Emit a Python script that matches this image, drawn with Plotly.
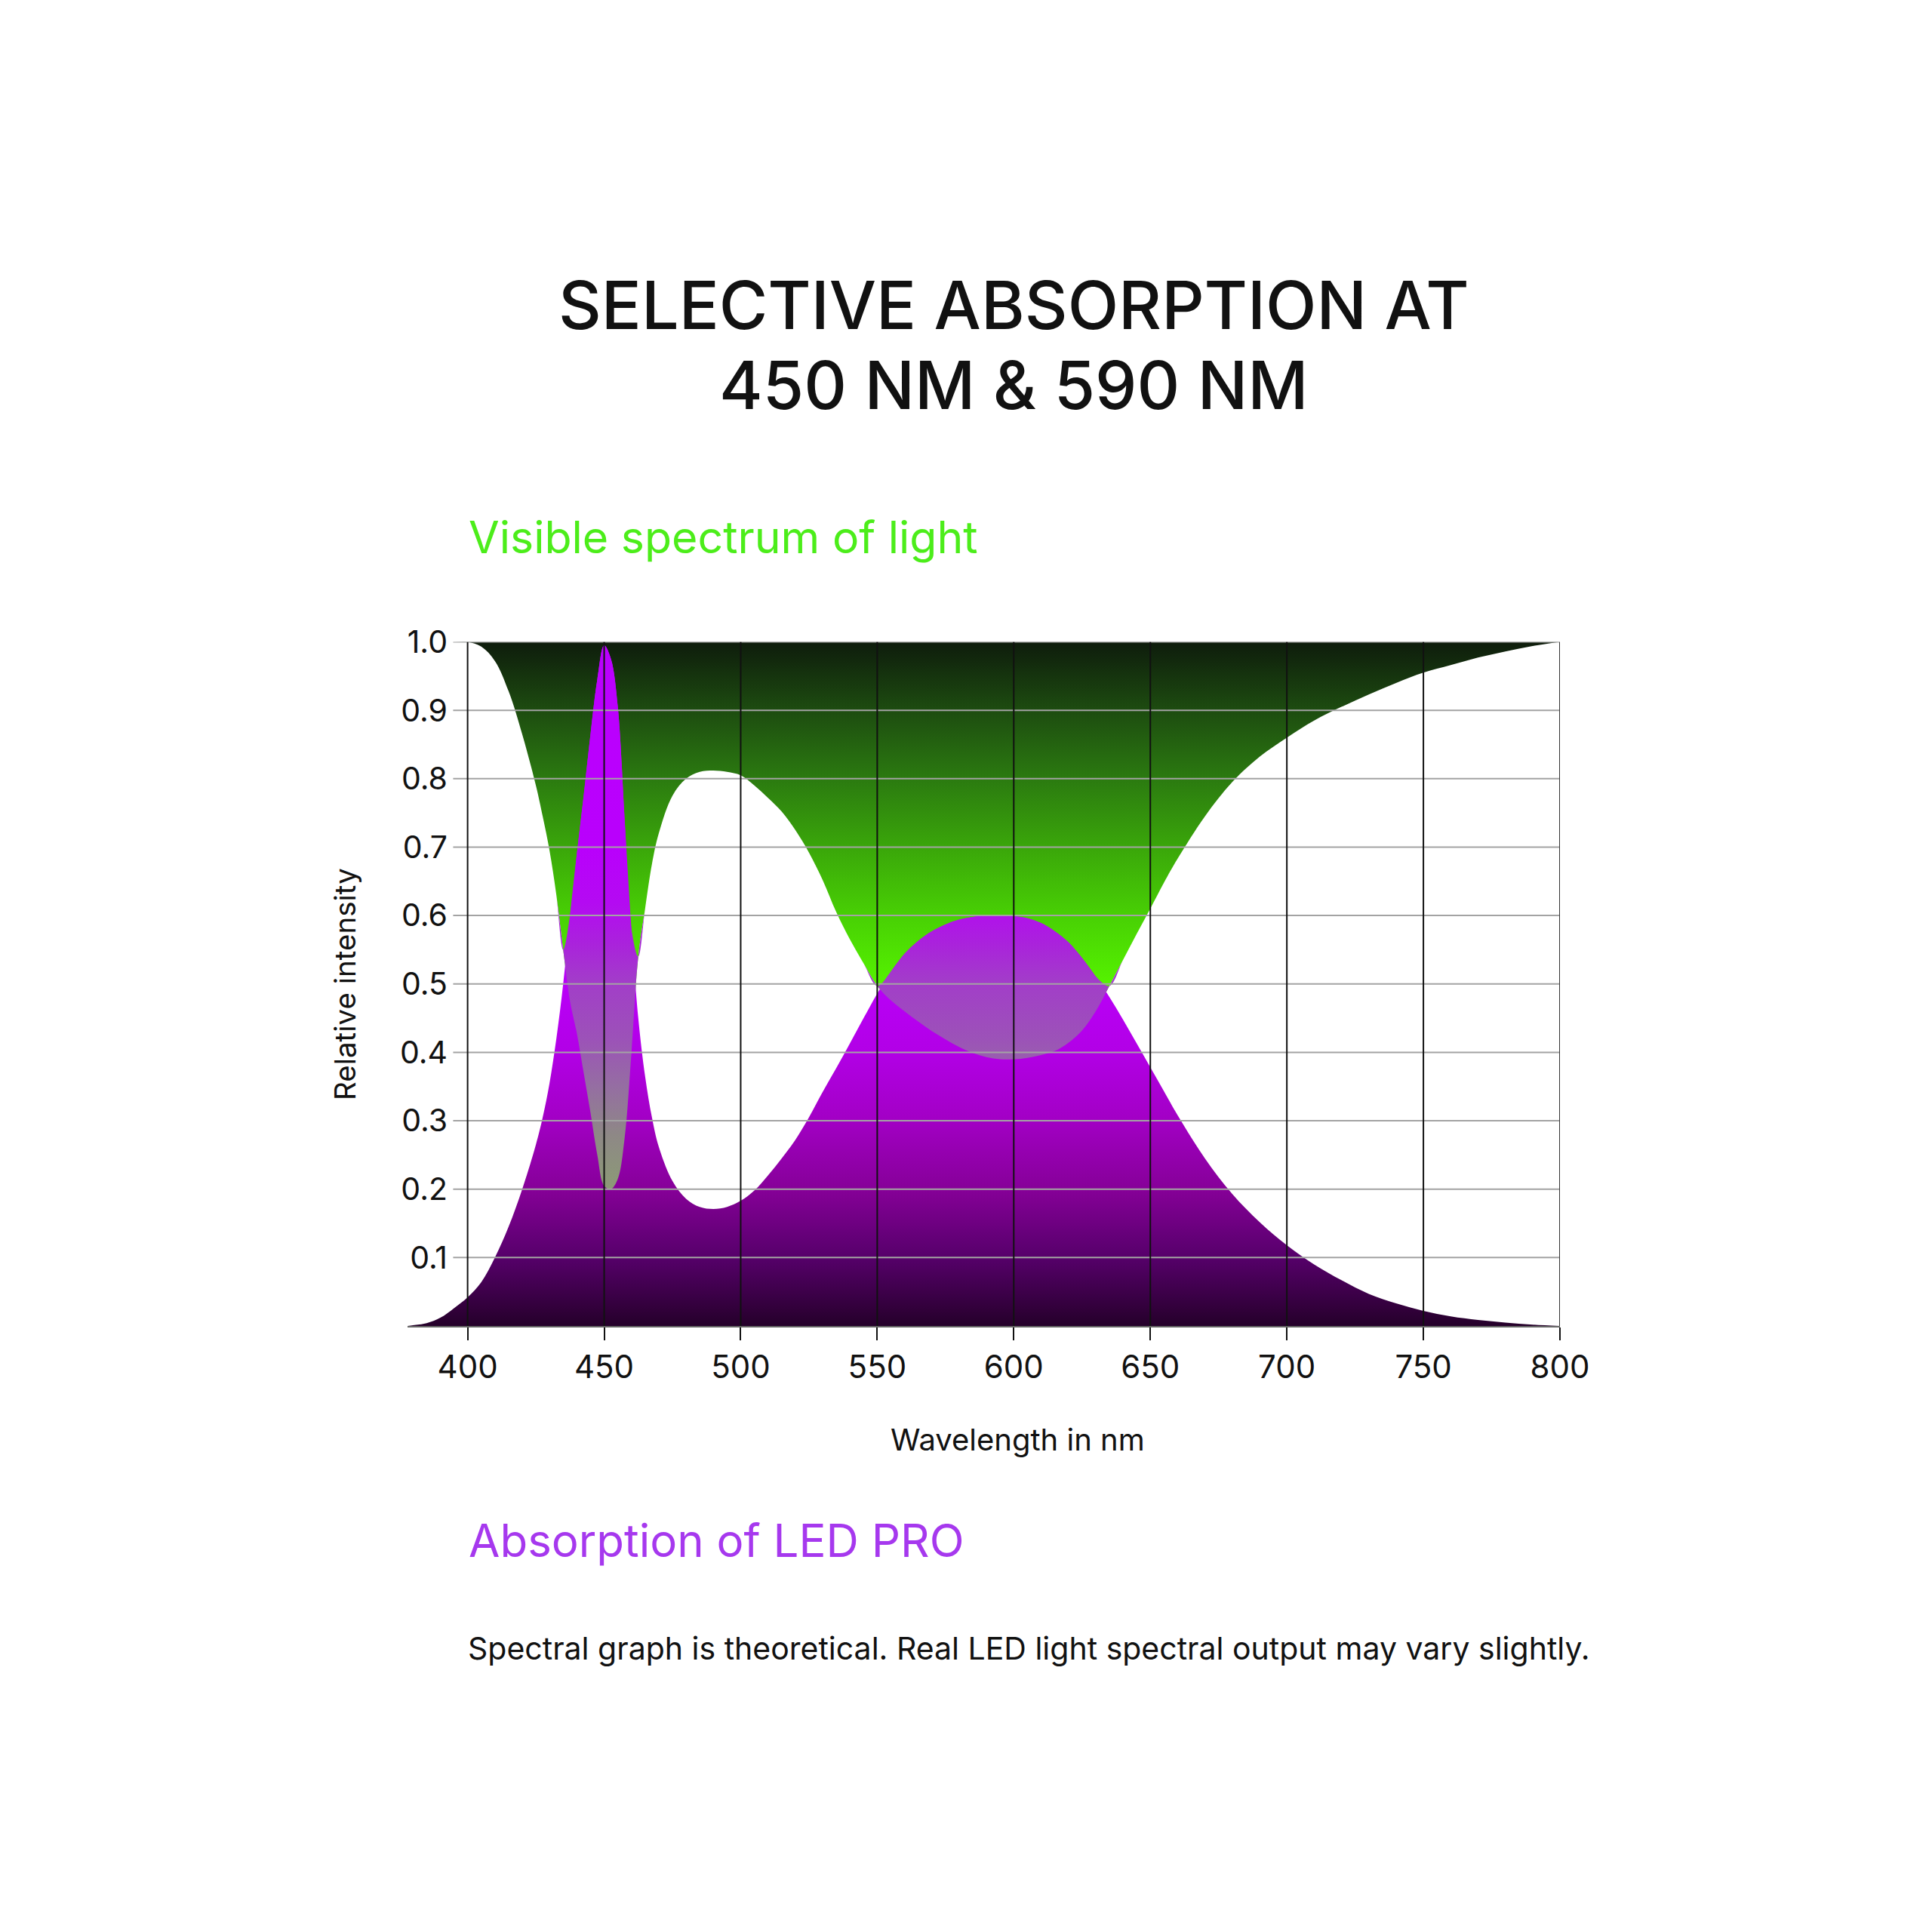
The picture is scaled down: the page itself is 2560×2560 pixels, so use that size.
import numpy as np
import plotly.graph_objects as go

wavelength = [378, 380, 385, 390, 395, 400, 405, 410, 415, 420, 425, 427.5, 430, 432.5,
              435, 437.5, 440, 442.5, 445, 447.5, 450, 452.5, 455, 457.5, 460, 462.5,
              465, 467.5, 470, 475, 480, 485, 490, 495, 500, 505, 510, 515, 520, 525,
              530, 535, 540, 545, 550, 555, 560, 565, 570, 575, 580, 585, 590, 595,
              600, 605, 610, 615, 620, 625, 630, 635, 640, 645, 650, 655, 660, 670,
              680, 690, 700, 710, 720, 730, 740, 750, 760, 770, 780, 790, 800]

# Absorption of LED PRO (filled from 0 up)
led_absorption = [0.0, 0.001, 0.004, 0.012, 0.026, 0.042, 0.064, 0.10, 0.145, 0.20, 0.265,
                  0.305, 0.355, 0.42, 0.50, 0.60, 0.69, 0.775, 0.865, 0.945, 0.995, 0.975,
                  0.905, 0.74, 0.58, 0.45, 0.365, 0.305, 0.262, 0.212, 0.186, 0.174, 0.171,
                  0.174, 0.183, 0.198, 0.22, 0.245, 0.272, 0.305, 0.342, 0.377, 0.413, 0.45,
                  0.486, 0.518, 0.544, 0.563, 0.577, 0.587, 0.594, 0.598, 0.60, 0.60, 0.599,
                  0.596, 0.589, 0.577, 0.561, 0.538, 0.511, 0.481, 0.448, 0.413, 0.378, 0.343,
                  0.308, 0.245, 0.193, 0.152, 0.118, 0.09, 0.067, 0.047, 0.033, 0.022,
                  0.014, 0.0088, 0.005, 0.002, 0.0]

# Visible spectrum of light (filled from the curve up to 1.0)
visible_light = [1.0, 1.0, 1.0, 1.0, 1.0, 1.0, 0.993, 0.972, 0.928, 0.865, 0.79, 0.745,
                 0.695, 0.63, 0.55, 0.475, 0.428, 0.37, 0.312, 0.25, 0.205, 0.20, 0.215,
                 0.275, 0.40, 0.54, 0.61, 0.675, 0.72, 0.775, 0.80, 0.81, 0.812, 0.81,
                 0.805, 0.79, 0.772, 0.752, 0.725, 0.692, 0.652, 0.605, 0.565, 0.53, 0.497,
                 0.476, 0.46, 0.445, 0.431, 0.419, 0.408, 0.399, 0.393, 0.39, 0.39, 0.392,
                 0.396, 0.402, 0.414, 0.432, 0.46, 0.497, 0.535, 0.573, 0.61, 0.648, 0.683,
                 0.745, 0.795, 0.832, 0.86, 0.885, 0.905, 0.923, 0.94, 0.955, 0.966, 0.977,
                 0.986, 0.994, 1.0]

spectrum_top = [1.0] * len(wavelength)

x_ticks = [400, 450, 500, 550, 600, 650, 700, 750, 800]
y_ticks = [0.1, 0.2, 0.3, 0.4, 0.5, 0.6, 0.7, 0.8, 0.9, 1.0]
y_ticklabels = ["0.1", "0.2", "0.3", "0.4", "0.5", "0.6", "0.7", "0.8", "0.9", "1.0"]

FONT = "Inter"
W = 2560
OFF = 8  # page body margin of the html page

green_scale = [[0.0, "#5cff00"], [0.5, "#55f200"], [0.6, "#48d004"], [0.7, "#3aa60a"],
               [0.8, "#2b7a10"], [0.9, "#1d4c10"], [1.0, "#0e1c0c"]]
purple_scale = [[0.0, "#25002a"], [0.1, "#56006a"], [0.2, "#860098"], [0.3, "#a200c4"],
                [0.4, "#b200e6"], [0.5, "#b900f8"], [1.0, "#bb00ff"]]
overlap_scale = [[0.0, "#8c9e76"], [0.2, "#8c9a76"], [0.28, "#8e8886"], [0.35, "#956ea2"],
                 [0.42, "#9c52b8"], [0.5, "#a23ec8"], [0.56, "#aa22dc"], [0.62, "#b40af2"],
                 [0.7, "#b900fc"], [1.0, "#bb00ff"]]

led = np.array(led_absorption)
vis = np.array(visible_light)
overlap_top = np.where(led > vis, led, vis)

clear = "rgba(0,0,0,0)"
smooth = dict(width=0.5, color=clear, shape="spline", smoothing=1.0)

fig = go.Figure()

# top edge of the visible spectrum band
fig.add_trace(go.Scatter(x=wavelength, y=spectrum_top, mode="lines",
                         line=dict(width=0.5, color=clear), hoverinfo="skip"))
# green band between the curve and 1.0
fig.add_trace(go.Scatter(x=wavelength, y=visible_light, mode="lines", fill="tonexty",
                         line=smooth,
                         fillgradient=dict(type="vertical", colorscale=green_scale,
                                           start=0, stop=1),
                         hoverinfo="skip"))
# purple absorption area
fig.add_trace(go.Scatter(x=wavelength, y=led_absorption, mode="lines", fill="tozeroy",
                         line=smooth,
                         fillgradient=dict(type="vertical", colorscale=purple_scale,
                                           start=0, stop=1),
                         hoverinfo="skip"))
# where both overlap
fig.add_trace(go.Scatter(x=wavelength, y=visible_light, mode="lines",
                         line=smooth, hoverinfo="skip"))
fig.add_trace(go.Scatter(x=wavelength, y=overlap_top, mode="lines", fill="tonexty",
                         line=smooth,
                         fillgradient=dict(type="vertical", colorscale=overlap_scale,
                                           start=0, stop=1),
                         hoverinfo="skip"))

# grid drawn above the fills
for v in y_ticks:
    fig.add_shape(type="line", xref="x", yref="y", x0=394.7, x1=x_ticks[-1], y0=v, y1=v,
                  line=dict(color="#a3a3a3", width=2), layer="above")
for t in x_ticks:
    fig.add_shape(type="line", xref="x", yref="y", x0=t, x1=t, y0=0, y1=1,
                  line=dict(color="#111111" if t < 800 else "#333333", width=2),
                  layer="above")

fig.update_layout(
    width=W, height=W,
    template="none",
    paper_bgcolor="white", plot_bgcolor="white",
    margin=dict(l=0, r=0, t=0, b=0),
    showlegend=False,
    font=dict(family=FONT, color="#111111"),
    xaxis=dict(domain=[(540 - OFF) / W, (2067 - OFF) / W], range=[378, 800],
               tickvals=x_ticks, ticktext=[str(t) for t in x_ticks],
               tickfont=dict(size=42, family=FONT, color="#111111"),
               ticks="outside", ticklen=17, tickwidth=2, tickcolor="#111111",
               showline=True, linecolor="#666666", linewidth=2,
               showgrid=False, zeroline=False, automargin=False, fixedrange=True),
    yaxis=dict(domain=[1 - (1757 - OFF) / W, 1 - (850.5 - OFF) / W], range=[0, 1],
               anchor="free", position=(593 - OFF) / W,
               tickvals=y_ticks, ticktext=y_ticklabels,
               tickfont=dict(size=41, family=FONT, color="#111111"),
               ticks="", showline=False, showgrid=False, zeroline=False,
               automargin=False, fixedrange=True),
)

annotations = [
    dict(text="SELECTIVE ABSORPTION AT", x=1343, y=404, size=88, color="#111111",
         weight=500),
    dict(text="450 NM &amp; 590 NM", x=1343, y=510, size=88, color="#111111", weight=500),
    dict(text="Visible spectrum of light", x=619, y=711, xanchor="left", size=59,
         color="#4ced1a"),
    dict(text="Relative intensity", x=457, y=1304, textangle=-90, size=38.5,
         color="#111111"),
    dict(text="Wavelength in nm", x=1348, y=1907, size=40, color="#111111"),
    dict(text="Absorption of LED PRO", x=619, y=2041, xanchor="left", size=60,
         color="#a638ee"),
    dict(text="Spectral graph is theoretical. Real LED light spectral output may vary slightly.",
         x=618, y=2184, xanchor="left", size=41, color="#111111"),
]
for a in annotations:
    fig.add_annotation(
        text=a["text"], x=(a["x"] - OFF) / W, y=1 - (a["y"] - OFF) / W,
        xref="paper", yref="paper", xanchor=a.get("xanchor", "center"),
        yanchor="middle", showarrow=False, textangle=a.get("textangle", 0),
        font=dict(family=FONT, size=a["size"], color=a["color"],
                  weight=a.get("weight", 400)),
    )

fig.write_html("out.html")
